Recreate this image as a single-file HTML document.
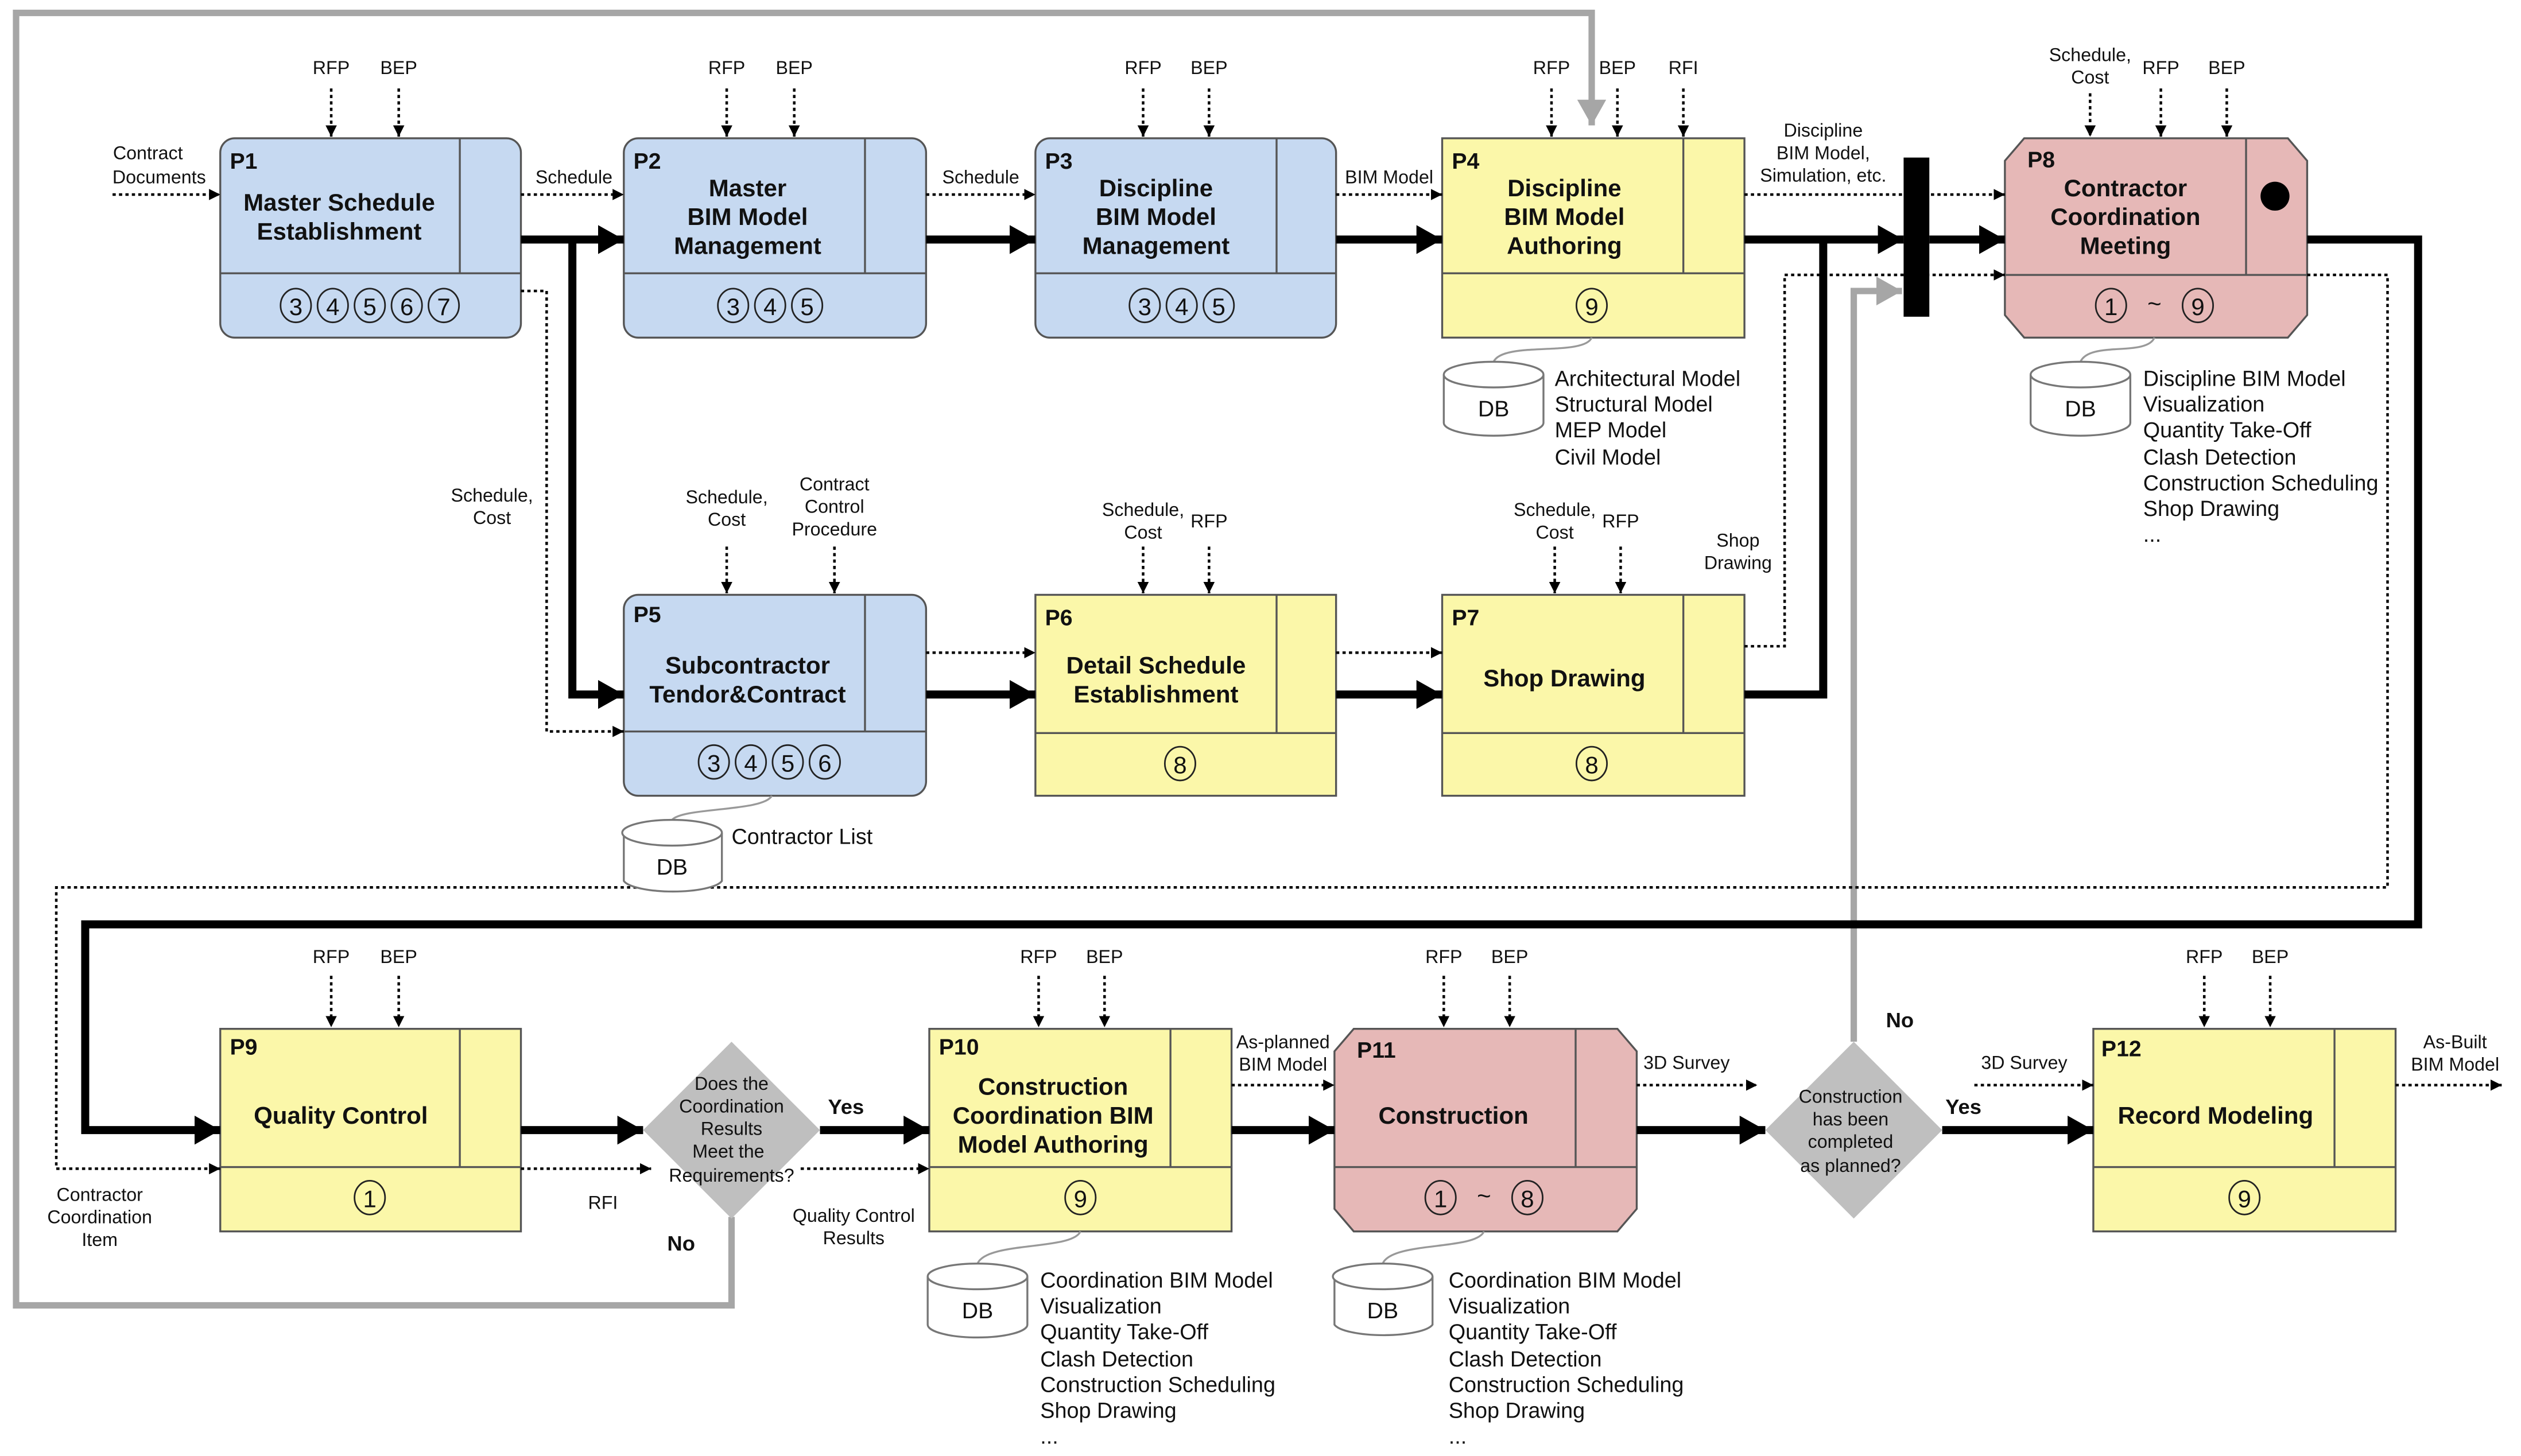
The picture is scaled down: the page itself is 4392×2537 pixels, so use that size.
<!DOCTYPE html>
<html><head><meta charset="utf-8"><style>
html,body{margin:0;padding:0;background:#fff;}
svg{display:block;}
text{font-family:"Liberation Sans","DejaVu Sans",sans-serif;fill:#111;}
.t{font-weight:bold;font-size:15px;text-anchor:middle;}
.p{font-weight:bold;font-size:14px;}
.l{font-size:11.5px;text-anchor:middle;}
.cn ellipse{fill:none;stroke:#222;stroke-width:1;}
.cn text{font-size:15px;text-anchor:middle;}
.li{font-size:13.5px;}
.d{stroke:#000;stroke-width:1.6;stroke-dasharray:2 2;fill:none;}
.k{stroke:#000;stroke-width:5;fill:none;}
.g{stroke:#a6a6a6;stroke-width:4;fill:none;}
</style></head><body>
<svg width="4392" height="2537" viewBox="0 0 1568 905.7" xmlns="http://www.w3.org/2000/svg">
<defs>
<marker id="s" markerUnits="userSpaceOnUse" markerWidth="7" markerHeight="7" refX="7" refY="3.5" orient="auto"><path d="M0,0L7,3.5L0,7z" fill="#000"/></marker>
<marker id="b" markerUnits="userSpaceOnUse" markerWidth="16" markerHeight="18" refX="16" refY="9" orient="auto"><path d="M0,0L16,9L0,18z" fill="#000"/></marker>
<marker id="gm" markerUnits="userSpaceOnUse" markerWidth="16" markerHeight="18" refX="16" refY="9" orient="auto"><path d="M0,0L16,9L0,18z" fill="#a6a6a6"/></marker>
</defs>

<path class="g" d="M455,757 V812 H10 V8 H990 V78" marker-end="url(#gm)"/>
<path class="g" d="M1153,648 V181 H1183" marker-end="url(#gm)"/>

<g stroke="#555" stroke-width="1.2">
<rect x="137" y="86" width="187" height="124" rx="9" fill="#c6d9f1"/>
<line x1="137" y1="170" x2="324" y2="170"/><line x1="286" y1="86" x2="286" y2="170"/>
<rect x="388" y="86" width="188" height="124" rx="9" fill="#c6d9f1"/>
<line x1="388" y1="170" x2="576" y2="170"/><line x1="538" y1="86" x2="538" y2="170"/>
<rect x="644" y="86" width="187" height="124" rx="9" fill="#c6d9f1"/>
<line x1="644" y1="170" x2="831" y2="170"/><line x1="794" y1="86" x2="794" y2="170"/>
<rect x="897" y="86" width="188" height="124" fill="#fbf7a9"/>
<line x1="897" y1="170" x2="1085" y2="170"/><line x1="1047" y1="86" x2="1047" y2="170"/>
<polygon points="1259,86 1423,86 1435,100 1435,196 1423,210 1259,210 1247,196 1247,100" fill="#e6b8b7"/>
<line x1="1247" y1="171" x2="1435" y2="171"/><line x1="1397" y1="86" x2="1397" y2="171"/>
<rect x="388" y="370" width="188" height="125" rx="9" fill="#c6d9f1"/>
<line x1="388" y1="455" x2="576" y2="455"/><line x1="538" y1="370" x2="538" y2="455"/>
<rect x="644" y="370" width="187" height="125" fill="#fbf7a9"/>
<line x1="644" y1="456" x2="831" y2="456"/><line x1="794" y1="370" x2="794" y2="456"/>
<rect x="897" y="370" width="188" height="125" fill="#fbf7a9"/>
<line x1="897" y1="456" x2="1085" y2="456"/><line x1="1047" y1="370" x2="1047" y2="456"/>
<rect x="137" y="640" width="187" height="126" fill="#fbf7a9"/>
<line x1="137" y1="726" x2="324" y2="726"/><line x1="286" y1="640" x2="286" y2="726"/>
<rect x="578" y="640" width="188" height="126" fill="#fbf7a9"/>
<line x1="578" y1="726" x2="766" y2="726"/><line x1="728" y1="640" x2="728" y2="726"/>
<polygon points="842,640 1006,640 1018,654 1018,752 1006,766 842,766 830,752 830,654" fill="#e6b8b7"/>
<line x1="830" y1="726" x2="1018" y2="726"/><line x1="980" y1="640" x2="980" y2="726"/>
<rect x="1302" y="640" width="188" height="126" fill="#fbf7a9"/>
<line x1="1302" y1="726" x2="1490" y2="726"/><line x1="1452" y1="640" x2="1452" y2="726"/>
</g>
<circle cx="1415" cy="122" r="9" fill="#000"/>
<polygon points="455,648 510,703 455,758 400,703" fill="#bfbfbf"/>
<polygon points="1153,648 1208,703 1153,758 1098,703" fill="#bfbfbf"/>
<rect x="1184" y="98" width="16" height="99" fill="#000"/>

<path class="k" d="M324,149 H388" marker-end="url(#b)"/>
<path class="k" d="M356,149 V432 H388" marker-end="url(#b)"/>
<path class="k" d="M576,149 H644" marker-end="url(#b)"/>
<path class="k" d="M831,149 H897" marker-end="url(#b)"/>
<path class="k" d="M1085,149 H1184" marker-end="url(#b)"/>
<path class="k" d="M1200,149 H1247" marker-end="url(#b)"/>
<path class="k" d="M1085,432 H1134 V149"/>
<path class="k" d="M576,432 H644" marker-end="url(#b)"/>
<path class="k" d="M831,432 H897" marker-end="url(#b)"/>
<path class="k" d="M1435,149 H1504 V575 H53 V703 H137" marker-end="url(#b)"/>
<path class="k" d="M324,703 H400" marker-end="url(#b)"/>
<path class="k" d="M510,703 H578" marker-end="url(#b)"/>
<path class="k" d="M766,703 H830" marker-end="url(#b)"/>
<path class="k" d="M1018,703 H1098" marker-end="url(#b)"/>
<path class="k" d="M1208,703 H1302" marker-end="url(#b)"/>

<g marker-end="url(#s)">
<path class="d" d="M70,121 H137"/>
<path class="d" d="M324,121 H388"/>
<path class="d" d="M576,121 H644"/>
<path class="d" d="M831,121 H897"/>
<path class="d" d="M1085,121 H1247"/>
<path class="d" d="M324,181 H340 V455 H388"/>
<path class="d" d="M576,406 H644"/>
<path class="d" d="M831,406 H897"/>
<path class="d" d="M1085,402 H1110 V171 H1247"/>
<path class="d" d="M1435,171 H1485 V552 H35 V727 H137"/>
<path class="d" d="M324,727 H405"/>
<path class="d" d="M498,727 H578"/>
<path class="d" d="M766,675 H830"/>
<path class="d" d="M1018,675 H1093"/>
<path class="d" d="M1228,675 H1302"/>
<path class="d" d="M1490,675 H1556"/>
<path class="d" d="M206,55 V85"/><path class="d" d="M248,55 V85"/>
<path class="d" d="M452,55 V85"/><path class="d" d="M494,55 V85"/>
<path class="d" d="M711,55 V85"/><path class="d" d="M752,55 V85"/>
<path class="d" d="M965,55 V85"/><path class="d" d="M1006,55 V85"/><path class="d" d="M1047,55 V85"/>
<path class="d" d="M1300,58 V85"/><path class="d" d="M1344,55 V85"/><path class="d" d="M1385,55 V85"/>
<path class="d" d="M452,340 V369"/><path class="d" d="M519,340 V369"/>
<path class="d" d="M711,340 V369"/><path class="d" d="M752,340 V369"/>
<path class="d" d="M967,340 V369"/><path class="d" d="M1008,340 V369"/>
<path class="d" d="M206,607 V639"/><path class="d" d="M248,607 V639"/>
<path class="d" d="M646,607 V639"/><path class="d" d="M687,607 V639"/>
<path class="d" d="M898,607 V639"/><path class="d" d="M939,607 V639"/>
<path class="d" d="M1371,607 V639"/><path class="d" d="M1412,607 V639"/>
</g>

<g class="l">
<text x="206" y="46">RFP</text><text x="248" y="46">BEP</text>
<text x="452" y="46">RFP</text><text x="494" y="46">BEP</text>
<text x="711" y="46">RFP</text><text x="752" y="46">BEP</text>
<text x="965" y="46">RFP</text><text x="1006" y="46">BEP</text><text x="1047" y="46">RFI</text>
<text x="1300" y="38">Schedule,</text><text x="1300" y="52">Cost</text>
<text x="1344" y="46">RFP</text><text x="1385" y="46">BEP</text>
<text x="452" y="313">Schedule,</text><text x="452" y="327">Cost</text>
<text x="519" y="305">Contract</text><text x="519" y="319">Control</text><text x="519" y="333">Procedure</text>
<text x="711" y="321">Schedule,</text><text x="711" y="335">Cost</text><text x="752" y="328">RFP</text>
<text x="967" y="321">Schedule,</text><text x="967" y="335">Cost</text><text x="1008" y="328">RFP</text>
<text x="206" y="599">RFP</text><text x="248" y="599">BEP</text>
<text x="646" y="599">RFP</text><text x="687" y="599">BEP</text>
<text x="898" y="599">RFP</text><text x="939" y="599">BEP</text>
<text x="1371" y="599">RFP</text><text x="1412" y="599">BEP</text>
<text x="92" y="99">Contract</text><text x="99" y="114">Documents</text>
<text x="357" y="114">Schedule</text><text x="610" y="114">Schedule</text><text x="864" y="114">BIM Model</text>
<text x="1134" y="85">Discipline</text><text x="1134" y="99">BIM Model,</text><text x="1134" y="113">Simulation, etc.</text>
<text x="306" y="312">Schedule,</text><text x="306" y="326">Cost</text>
<text x="1081" y="340">Shop</text><text x="1081" y="354">Drawing</text>
<text x="62" y="747">Contractor</text><text x="62" y="761">Coordination</text><text x="62" y="775">Item</text>
<text x="375" y="752">RFI</text>
<text x="531" y="760">Quality Control</text><text x="531" y="774">Results</text>
<text x="798" y="652">As-planned</text><text x="798" y="666">BIM Model</text>
<text x="1049" y="665">3D Survey</text><text x="1259" y="665">3D Survey</text>
<text x="1527" y="652">As-Built</text><text x="1527" y="666">BIM Model</text>
<text x="455" y="678">Does the</text><text x="455" y="692">Coordination</text><text x="455" y="706">Results</text><text x="453" y="720">Meet the</text><text x="455" y="735">Requirements?</text>
<text x="1151" y="686">Construction</text><text x="1151" y="700">has been</text><text x="1151" y="714">completed</text><text x="1151" y="729">as planned?</text>
</g>
<g style="font-weight:bold;font-size:13px">
<text x="515" y="693">Yes</text><text x="1210" y="693">Yes</text>
<text x="415" y="778">No</text><text x="1173" y="639">No</text>
</g>

<g class="p">
<text x="143" y="105">P1</text><text x="394" y="105">P2</text><text x="650" y="105">P3</text>
<text x="903" y="105">P4</text><text x="1261" y="104">P8</text>
<text x="394" y="387">P5</text><text x="650" y="389">P6</text><text x="903" y="389">P7</text>
<text x="143" y="656">P9</text><text x="584" y="656">P10</text><text x="844" y="658">P11</text><text x="1307" y="657">P12</text>
</g>
<g class="t">
<text x="211" y="131">Master Schedule</text><text x="211" y="149">Establishment</text>
<text x="465" y="122">Master</text><text x="465" y="140">BIM Model</text><text x="465" y="158">Management</text>
<text x="719" y="122">Discipline</text><text x="719" y="140">BIM Model</text><text x="719" y="158">Management</text>
<text x="973" y="122">Discipline</text><text x="973" y="140">BIM Model</text><text x="973" y="158">Authoring</text>
<text x="1322" y="122">Contractor</text><text x="1322" y="140">Coordination</text><text x="1322" y="158">Meeting</text>
<text x="465" y="419">Subcontractor</text><text x="465" y="437">Tendor&amp;Contract</text>
<text x="719" y="419">Detail Schedule</text><text x="719" y="437">Establishment</text>
<text x="973" y="427">Shop Drawing</text>
<text x="212" y="699">Quality Control</text>
<text x="655" y="681">Construction</text><text x="655" y="699">Coordination BIM</text><text x="655" y="717">Model Authoring</text>
<text x="904" y="699">Construction</text>
<text x="1378" y="699">Record Modeling</text>
</g>

<!-- circled numbers -->
<g class="cn">
<ellipse cx="184" cy="190" rx="9.5" ry="10.5"/><text x="184" y="196">3</text>
<ellipse cx="207" cy="190" rx="9.5" ry="10.5"/><text x="207" y="196">4</text>
<ellipse cx="230" cy="190" rx="9.5" ry="10.5"/><text x="230" y="196">5</text>
<ellipse cx="253" cy="190" rx="9.5" ry="10.5"/><text x="253" y="196">6</text>
<ellipse cx="276" cy="190" rx="9.5" ry="10.5"/><text x="276" y="196">7</text>
<ellipse cx="456" cy="190" rx="9.5" ry="10.5"/><text x="456" y="196">3</text>
<ellipse cx="479" cy="190" rx="9.5" ry="10.5"/><text x="479" y="196">4</text>
<ellipse cx="502" cy="190" rx="9.5" ry="10.5"/><text x="502" y="196">5</text>
<ellipse cx="712" cy="190" rx="9.5" ry="10.5"/><text x="712" y="196">3</text>
<ellipse cx="735" cy="190" rx="9.5" ry="10.5"/><text x="735" y="196">4</text>
<ellipse cx="758" cy="190" rx="9.5" ry="10.5"/><text x="758" y="196">5</text>
<ellipse cx="990" cy="190" rx="9.5" ry="10.5"/><text x="990" y="196">9</text>
<ellipse cx="1313" cy="190" rx="9.5" ry="10.5"/><text x="1313" y="196">1</text>
<text x="1340" y="194">~</text>
<ellipse cx="1367" cy="190" rx="9.5" ry="10.5"/><text x="1367" y="196">9</text>
<ellipse cx="444" cy="474" rx="9.5" ry="10.5"/><text x="444" y="480">3</text>
<ellipse cx="467" cy="474" rx="9.5" ry="10.5"/><text x="467" y="480">4</text>
<ellipse cx="490" cy="474" rx="9.5" ry="10.5"/><text x="490" y="480">5</text>
<ellipse cx="513" cy="474" rx="9.5" ry="10.5"/><text x="513" y="480">6</text>
<ellipse cx="734" cy="475" rx="9.5" ry="10.5"/><text x="734" y="481">8</text>
<ellipse cx="990" cy="475" rx="9.5" ry="10.5"/><text x="990" y="481">8</text>
<ellipse cx="230" cy="745" rx="9.5" ry="10.5"/><text x="230" y="751">1</text>
<ellipse cx="672" cy="745" rx="9.5" ry="10.5"/><text x="672" y="751">9</text>
<ellipse cx="896" cy="745" rx="9.5" ry="10.5"/><text x="896" y="751">1</text>
<text x="923" y="749">~</text>
<ellipse cx="950" cy="745" rx="9.5" ry="10.5"/><text x="950" y="751">8</text>
<ellipse cx="1396" cy="745" rx="9.5" ry="10.5"/><text x="1396" y="751">9</text>
</g>

<g fill="#fff" stroke="#777" stroke-width="1.2">
<path d="M990,210 C985,222 935,212 929,225" fill="none" stroke="#999"/>
<path d="M898,233 V263 A31,8 0 0 0 960,263 V233"/><ellipse cx="929" cy="233" rx="31" ry="8"/>
<path d="M1340,210 C1335,222 1300,212 1294,225" fill="none" stroke="#999"/>
<path d="M1263,233 V263 A31,8 0 0 0 1325,263 V233"/><ellipse cx="1294" cy="233" rx="31" ry="8"/>
<path d="M480,495 C475,505 425,502 418,510" fill="none" stroke="#999"/>
<path d="M388,518 V548 A31,8 0 0 0 449,548 V518"/><ellipse cx="418" cy="518" rx="31" ry="8"/>
<path d="M672,766 C667,778 614,772 608,786" fill="none" stroke="#999"/>
<path d="M577,794 V824 A31,8 0 0 0 639,824 V794"/><ellipse cx="608" cy="794" rx="31" ry="8"/>
<path d="M923,766 C918,778 866,772 860,786" fill="none" stroke="#999"/>
<path d="M830,794 V824 A31,8 0 0 0 891,824 V794"/><ellipse cx="860" cy="794" rx="31" ry="8"/>
</g>
<g style="font-size:14px;text-anchor:middle">
<text x="929" y="259">DB</text><text x="1294" y="259">DB</text><text x="418" y="544">DB</text>
<text x="608" y="820">DB</text><text x="860" y="820">DB</text>
</g>
<g class="li">
<text x="967" y="240">Architectural Model</text><text x="967" y="256">Structural Model</text><text x="967" y="272">MEP Model</text><text x="967" y="289">Civil Model</text>
<text x="1333" y="240">Discipline BIM Model</text><text x="1333" y="256">Visualization</text><text x="1333" y="272">Quantity Take-Off</text><text x="1333" y="289">Clash Detection</text><text x="1333" y="305">Construction Scheduling</text><text x="1333" y="321">Shop Drawing</text><text x="1333" y="337">...</text>
<text x="455" y="525">Contractor List</text>
<text x="647" y="801">Coordination BIM Model</text><text x="647" y="817">Visualization</text><text x="647" y="833">Quantity Take-Off</text><text x="647" y="850">Clash Detection</text><text x="647" y="866">Construction Scheduling</text><text x="647" y="882">Shop Drawing</text><text x="647" y="898">...</text>
<text x="901" y="801">Coordination BIM Model</text><text x="901" y="817">Visualization</text><text x="901" y="833">Quantity Take-Off</text><text x="901" y="850">Clash Detection</text><text x="901" y="866">Construction Scheduling</text><text x="901" y="882">Shop Drawing</text><text x="901" y="898">...</text>
</g>
</svg>
</body></html>
